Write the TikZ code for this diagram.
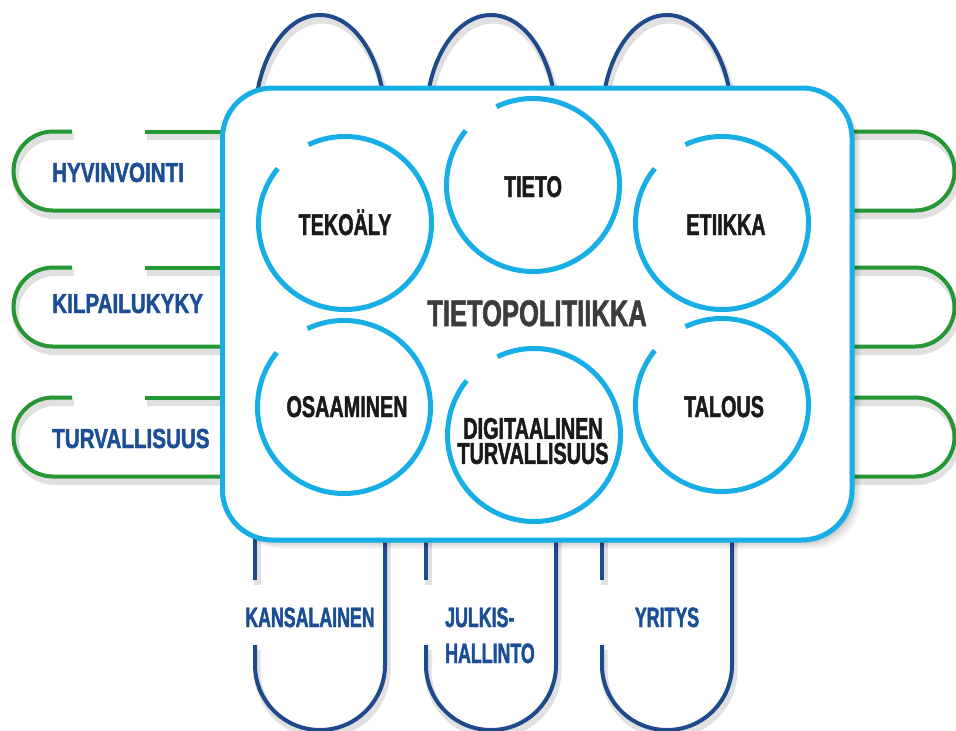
\documentclass[tikz,border=0pt]{standalone}
\usepackage{fontspec}
\newfontfamily\ringfont{Liberation Sans}[UprightFont={* Bold}, FakeStretch=0.66, FakeBold=1.5]
\newfontfamily\titlefont{Liberation Sans}[UprightFont={* Bold}, FakeStretch=0.69, FakeBold=1.5]
\newfontfamily\sidefont{Liberation Sans}[UprightFont={* Bold}, FakeStretch=0.75, FakeBold=1.5]
\newfontfamily\footfont{Liberation Sans}[UprightFont={* Bold}, FakeStretch=0.635, FakeBold=1.5]
\definecolor{ringcyan}{HTML}{16AEE4}
\definecolor{pillblue}{HTML}{1E4A8C}
\definecolor{pillgreen}{HTML}{249634}
\definecolor{labelblue}{HTML}{1B4E94}
\definecolor{ringtext}{HTML}{1A1A1A}
\definecolor{titletext}{HTML}{3C3C3C}
\tikzset{
  greenpill/.style={draw=pillgreen, line width=4pt},
  bluepill/.style={draw=pillblue, line width=4pt},
  pillshadow/.style={draw=black, opacity=0.12, line width=7pt, shift={(2,5)}},
  ring/.style={draw=ringcyan, line width=5pt},
  mainbox/.style={draw=ringcyan, line width=5pt, fill=white, rounded corners=50pt},
  labelbox/.style={inner sep=0pt, text height=20pt, text depth=0pt},
  ringlabel/.style={labelbox, anchor=base, text=ringtext,
    font=\ringfont\fontsize{30}{32}\selectfont},
  twolinelabel/.style={inner sep=0pt, anchor=center, align=center, text=ringtext,
    font=\ringfont\fontsize{30}{25}\selectfont},
  titlelabel/.style={labelbox, anchor=base, text=titletext,
    font=\titlefont\fontsize{37}{40}\selectfont},
  sidelabel/.style={labelbox, anchor=base west, text=labelblue,
    font=\sidefont\fontsize{27.5}{30}\selectfont},
  footlabel/.style={labelbox, anchor=base, text=labelblue,
    font=\footfont\fontsize{28}{30}\selectfont},
}
\begin{document}
\begin{tikzpicture}[x=1pt,y=-1pt]
\path[use as bounding box] (0,0) rectangle (956,731);

% ---- pill outlines: left (green), right (green), top and bottom (blue)
\foreach \cy in {171,307,437}{
  % soft shadows
  \draw[pillshadow] (72,\cy-39.5) -- (53,\cy-39.5)
      arc[start angle=-90, end angle=-270, radius=39.5] -- (240,\cy+39.5);
  \draw[pillshadow] (145,\cy-39.5) -- (240,\cy-39.5);
  \draw[pillshadow] (840,\cy-39.5) -- (915,\cy-39.5)
      arc[start angle=-90, end angle=90, radius=39.5] -- (840,\cy+39.5);
  % left pill with an opening in its upper edge
  \draw[greenpill] (72,\cy-39.5) -- (53,\cy-39.5)
      arc[start angle=-90, end angle=-270, radius=39.5] -- (240,\cy+39.5);
  \draw[greenpill] (145,\cy-39.5) -- (240,\cy-39.5);
  % right pill, closed
  \draw[greenpill] (840,\cy-39.5) -- (915,\cy-39.5)
      arc[start angle=-90, end angle=90, radius=39.5] -- (840,\cy+39.5);
}
\foreach \cx in {320,491,667}{
  \draw[pillshadow] (\cx-65,200) -- (\cx-65,120)
      arc[start angle=180, end angle=360, x radius=65, y radius=105] -- (\cx+65,200);
  \draw[pillshadow] (\cx+65,520) -- (\cx+65,665)
      arc[start angle=0, end angle=180, radius=65] -- (\cx-65,645);
  \draw[pillshadow] (\cx-65,520) -- (\cx-65,580);
  % upper arch
  \draw[bluepill] (\cx-65,200) -- (\cx-65,120)
      arc[start angle=180, end angle=360, x radius=65, y radius=105] -- (\cx+65,200);
  % lower pill with an opening in its left side
  \draw[bluepill] (\cx+65,520) -- (\cx+65,665)
      arc[start angle=0, end angle=180, radius=65] -- (\cx-65,645);
  \draw[bluepill] (\cx-65,520) -- (\cx-65,580);
}

% ---- central rounded panel with a soft shadow
\foreach \s/\o in {9/0.04,7/0.05,5/0.06,3/0.07}{
  \fill[black, opacity=\o, rounded corners=50pt] (222.5+\s,88+\s) rectangle (852+\s,540+\s);
}
\draw[mainbox] (222.5,88) rectangle (852,540);

% ---- theme rings, each open at the upper left
\coordinate (cTek) at (345,223);
\coordinate (cTie) at (533,185);
\coordinate (cEti) at (722,223);
\coordinate (cOsa) at (344,407);
\coordinate (cDig) at (534,435);
\coordinate (cTal) at (722,405);
\foreach \c in {cTek,cTie,cEti,cOsa,cDig,cTal}{
  \draw[ring] (\c) ++(-115:86.5) arc[start angle=-115, end angle=219, radius=86.5];
}

% ---- texts
\node[titlelabel] (tTitle) at (537,326) {TIETOPOLITIIKKA};
\node[ringlabel] (tTek) at (345,235) {TEKOÄLY};
\node[ringlabel] (tTie) at (533,197) {TIETO};
\node[ringlabel] (tEti) at (726,235) {ETIIKKA};
\node[ringlabel] (tOsa) at (347,417) {OSAAMINEN};
\node[twolinelabel] (tDig) at (533,441) {DIGITAALINEN\\TURVALLISUUS};
\node[ringlabel] (tTal) at (724,417) {TALOUS};

\node[sidelabel] (tHyv) at (52,182) {HYVINVOINTI};
\node[sidelabel] (tKil) at (52,313) {KILPAILUKYKY};
\node[sidelabel] (tTur) at (52,448) {TURVALLISUUS};

\node[footlabel] (tKan) at (310,627) {KANSALAINEN};
\node[footlabel, anchor=base west] (tJul1) at (445,627) {JULKIS-};
\node[footlabel, anchor=base west] (tJul2) at (445,663) {HALLINTO};
\node[footlabel] (tYri) at (667,627) {YRITYS};
\end{tikzpicture}
\end{document}
